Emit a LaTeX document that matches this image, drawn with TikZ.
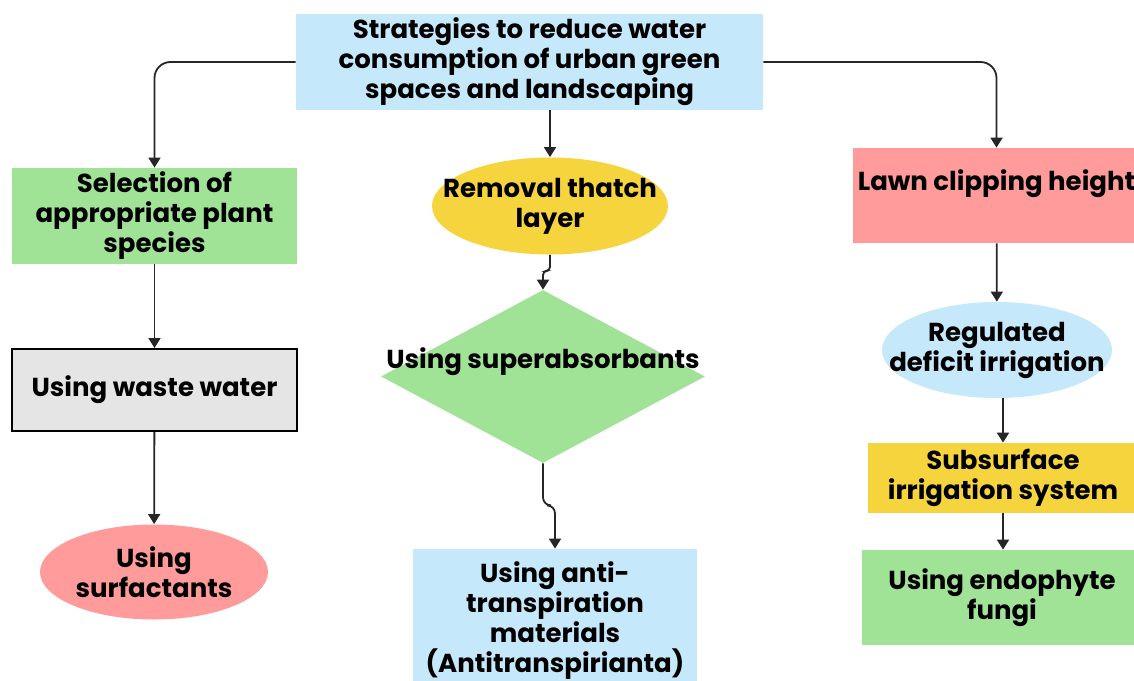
\documentclass[tikz,border=0pt]{standalone}
\usepackage{fontspec}
\setmainfont{Poppins}
\usepackage{tikz}
\usetikzlibrary{arrows.meta,shapes.geometric}
\definecolor{skyc}{RGB}{197, 232, 250}
\definecolor{leafc}{RGB}{160, 226, 150}
\definecolor{rosec}{RGB}{255, 155, 155}
\definecolor{sunc}{RGB}{246, 212, 62}
\definecolor{ashc}{RGB}{229, 229, 229}
\tikzset{
  box/.style={rectangle, align=center, inner sep=2pt},
  oval/.style={ellipse, inner sep=0pt},
  txt/.style={align=center},
  arr/.style={-{Triangle[width=6pt,length=5pt]}, line width=0.9pt, black!85},
}

\begin{document}
\begin{tikzpicture}[x=0.5pt, y=-0.5pt, font=\bfseries\fontsize{13}{15}\selectfont]
    \fill[white] (0,0) rectangle (1134,680);
    \useasboundingbox (0,0) rectangle (1134,680);
    % top
    \node (top) at (529.5,62) [box, fill=skyc, minimum width=233.5pt, minimum height=47pt] {Strategies to reduce water\\consumption of urban green\\spaces and landscaping};
    % left column
    \node (sel) at (154.5,216) [box, fill=leafc, minimum width=142.5pt, minimum height=48pt] {Selection of\\appropriate plant\\species};
    \node (waste) at (154.5,390) [box, fill=ashc, draw=black, line width=1pt, minimum width=142.5pt, minimum height=41pt] {Using waste water};
    \node (surf) at (154,572) [oval, fill=rosec, minimum width=114pt, minimum height=47.5pt] {};
    \node at (surf) [txt] {Using\\surfactants};
    % middle column
    \node (rem) at (550,206) [oval, fill=sunc, minimum width=118pt, minimum height=48.5pt] {};
    \node at (rem) [txt] {Removal thatch\\layer};
    \node (dia) at (543,376.5) [diamond, fill=leafc, inner sep=0pt, minimum width=162pt, minimum height=86.5pt] {};
    \node at (543,362) [txt] {Using superabsorbants};
    \node (anti) at (555,621) [box, fill=skyc, minimum width=142pt, minimum height=72pt] {Using anti-\\transpiration\\materials\\(Antitranspirianta)};
    % right column
    \node (lawn) at (996.5,195.5) [box, fill=rosec, minimum width=143.5pt, minimum height=47.5pt] {Lawn clipping height\\\mbox{}};
    \node (reg) at (997,350) [oval, fill=skyc, minimum width=115pt, minimum height=48pt] {};
    \node at (reg) [txt] {Regulated\\deficit irrigation};
    \node (sub) at (1003,478) [box, fill=sunc, minimum width=135pt, minimum height=35pt] {Subsurface\\irrigation system};
    \node (endo) at (1002,597.5) [box, fill=leafc, minimum width=140pt, minimum height=47.5pt] {Using endophyte\\fungi};
    % connectors
    \draw[arr, rounded corners=8pt] (top.west) -| (sel.north);
    \draw[arr, rounded corners=8pt] (top.east) -| (lawn.north);
    \draw[arr] (rem.north |- top.south) -- (rem.north);
    \draw[arr] (sel) -- (waste);
    \draw[arr] (waste) -- (surf);
    \draw[arr, rounded corners=2pt] (rem.south) -- ++(0,16) -| (dia.north);
    \draw[arr, rounded corners=4pt] (dia.south) -- ++(0,42) -| (anti.north);
    \draw[arr] (lawn) -- (reg);
    \draw[arr] (sub.north |- reg.south) -- (sub.north);
    \draw[arr] (sub) -- (sub.south |- endo.north);
\end{tikzpicture}
\end{document}
